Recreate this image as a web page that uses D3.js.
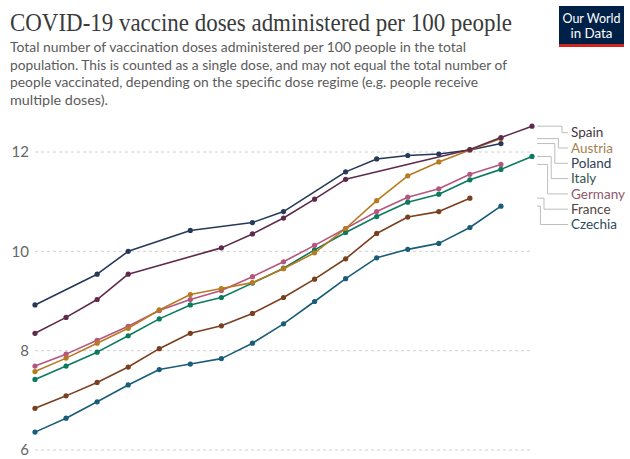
<!DOCTYPE html>
<html>
<head>
<meta charset="utf-8">
<script src="https://cdn.jsdelivr.net/npm/d3@7/dist/d3.min.js"></script>
<style>
  html, body { margin: 0; padding: 0; background: #fff; }
  svg { display: block; }
</style>
</head>
<body>
<svg id="chart" width="630" height="459"></svg>
<script>
// ---- data ----
const dates = ["2021-02-22","2021-02-23","2021-02-24","2021-02-25","2021-02-26","2021-02-27","2021-02-28",
               "2021-03-01","2021-03-02","2021-03-03","2021-03-04","2021-03-05","2021-03-06","2021-03-07",
               "2021-03-08","2021-03-09","2021-03-10"];
const countries = ["Spain","Austria","Poland","Italy","Germany","France","Czechia"];
const spain   = [8.35,8.67,9.03,9.54,null,null,10.07,10.35,10.67,11.05,11.45,null,null,null,12.05,12.29,12.52];
const austria = [7.58,7.85,8.15,8.45,8.82,9.13,9.25,9.37,9.65,9.97,10.46,11.02,11.52,11.80,12.04,12.27,null];
const poland  = [8.92,null,9.54,10.00,null,10.42,null,10.58,10.80,null,11.60,11.86,11.93,11.96,12.04,12.17,null];
const italy   = [7.42,7.69,7.97,8.30,8.64,8.92,9.07,9.36,9.66,10.03,10.38,10.70,10.99,11.15,11.44,11.65,11.91];
const germany = [7.69,7.93,8.21,8.49,8.81,9.03,9.21,9.49,9.79,10.12,10.46,10.80,11.09,11.26,11.55,11.75,null];
const france  = [6.84,7.09,7.36,7.67,8.04,8.35,8.50,8.75,9.07,9.44,9.85,10.36,10.69,10.80,11.07,null,null];
const czechia = [6.36,6.64,6.97,7.31,7.62,7.73,7.84,8.15,8.54,8.99,9.45,9.87,10.04,10.16,10.48,10.91,null];
const yTicks = [6, 8, 10, 12];
const yTickLabels = ["6", "8", "10", "12"];

const title = "COVID-19 vaccine doses administered per 100 people";
const subtitleLines = [
  "Total number of vaccination doses administered per 100 people in the total",
  "population. This is counted as a single dose, and may not equal the total number of",
  "people vaccinated, depending on the specific dose regime (e.g. people receive",
  "multiple doses)."
];

// ---- styles ----
const seriesValues = [spain, austria, poland, italy, germany, france, czechia];
const lineColors  = ["#5e2a4c","#b87a1e","#26395a","#0b7a5f","#b5567f","#7a3f1f","#1a5d78"];
const labelColors = ["#473745","#a5824f","#2f4057","#2f5450","#8f5a6a","#534540","#2f4b5c"];

const svg = d3.select("#chart");

// title + subtitle
svg.append("text")
  .attr("x", 10).attr("y", 31)
  .attr("font-family", "'Liberation Serif', 'DejaVu Serif', serif")
  .attr("font-size", 25)
  .attr("fill", "#3a3a3a")
  .attr("textLength", 502)
  .attr("lengthAdjust", "spacingAndGlyphs")
  .text(title);

const subWidths = [456, 497, 468, 98];
svg.append("g").selectAll("text")
  .data(subtitleLines)
  .join("text")
  .attr("x", 10)
  .attr("y", (d, i) => 52 + i * 17.5)
  .attr("font-family", "Lato, 'Open Sans', sans-serif")
  .attr("font-size", 14.2)
  .attr("fill", "#5b5b5b")
  .attr("textLength", (d, i) => subWidths[i])
  .attr("lengthAdjust", "spacingAndGlyphs")
  .text(d => d);

// logo
const logo = svg.append("g").attr("transform", "translate(559,6)");
logo.append("rect").attr("width", 65).attr("height", 41).attr("fill", "#002147");
logo.append("rect").attr("y", 38).attr("width", 65).attr("height", 3).attr("fill", "#ce261e");
logo.append("text").attr("x", 32.5).attr("y", 17).attr("text-anchor", "middle")
  .attr("font-family", "Lato, sans-serif").attr("font-size", 13.5).attr("fill", "#fff")
  .attr("textLength", 58).attr("lengthAdjust", "spacingAndGlyphs").text("Our World");
logo.append("text").attr("x", 32.5).attr("y", 32).attr("text-anchor", "middle")
  .attr("font-family", "Lato, sans-serif").attr("font-size", 13.5).attr("fill", "#fff")
  .attr("textLength", 42).attr("lengthAdjust", "spacingAndGlyphs").text("in Data");

// scales
const x = d3.scaleLinear().domain([0, dates.length - 1]).range([35, 532]);
const y = d3.scaleLinear().domain([6, 12]).range([450, 152]);

// grid
const grid = svg.append("g");
grid.selectAll("line")
  .data(yTicks)
  .join("line")
  .attr("x1", 35).attr("x2", 532)
  .attr("y1", d => y(d)).attr("y2", d => y(d))
  .attr("stroke", "#d0d0d0")
  .attr("stroke-width", 1)
  .attr("stroke-dasharray", "3,3");

const yAxis = d3.axisLeft(y).tickValues(yTicks)
  .tickFormat((d, i) => yTickLabels[i]).tickSize(0).tickPadding(0);
const yg = svg.append("g").attr("transform", "translate(29,0)").call(yAxis);
yg.select(".domain").remove();
yg.selectAll("text")
  .attr("font-family", "Lato, sans-serif")
  .attr("font-size", 15)
  .attr("fill", "#666");

// lines
const lineGen = d3.line()
  .x(d => x(d.i))
  .y(d => y(d.v));

const seriesData = countries.map((c, k) => ({
  name: c,
  color: lineColors[k],
  labelColor: labelColors[k],
  pts: seriesValues[k].map((v, i) => ({ i, v })).filter(p => p.v !== null)
}));

const drawOrder = [6, 5, 3, 4, 2, 1, 0];
drawOrder.forEach(k => {
  const s = seriesData[k];
  const g = svg.append("g");
  g.append("path")
    .datum(s.pts)
    .attr("d", lineGen)
    .attr("fill", "none")
    .attr("stroke", s.color)
    .attr("stroke-width", 1.6)
    .attr("stroke-linejoin", "round");
  g.selectAll("circle")
    .data(s.pts)
    .join("circle")
    .attr("cx", d => x(d.i))
    .attr("cy", d => y(d.v))
    .attr("r", 2.6)
    .attr("fill", s.color);
});

// legend with connectors
const labelY0 = 132.7, labelStep = 15.3;
const leg = svg.append("g");
seriesData.forEach((s, k) => {
  const last = s.pts[s.pts.length - 1];
  const y0 = y(last.v);
  const ly = labelY0 + k * labelStep;
  const stepX = 562 - k * 3.6;
  leg.append("path")
    .attr("d", `M537,${y0}H${stepX}V${ly}H568`)
    .attr("fill", "none")
    .attr("stroke", "#bdbdbd")
    .attr("stroke-width", 1);
  leg.append("text")
    .attr("x", 571)
    .attr("y", ly)
    .attr("dy", "0.35em")
    .attr("font-family", "Lato, sans-serif")
    .attr("font-size", 13.5)
    .attr("fill", s.labelColor)
    .text(s.name);
});
</script>
</body>
</html>
